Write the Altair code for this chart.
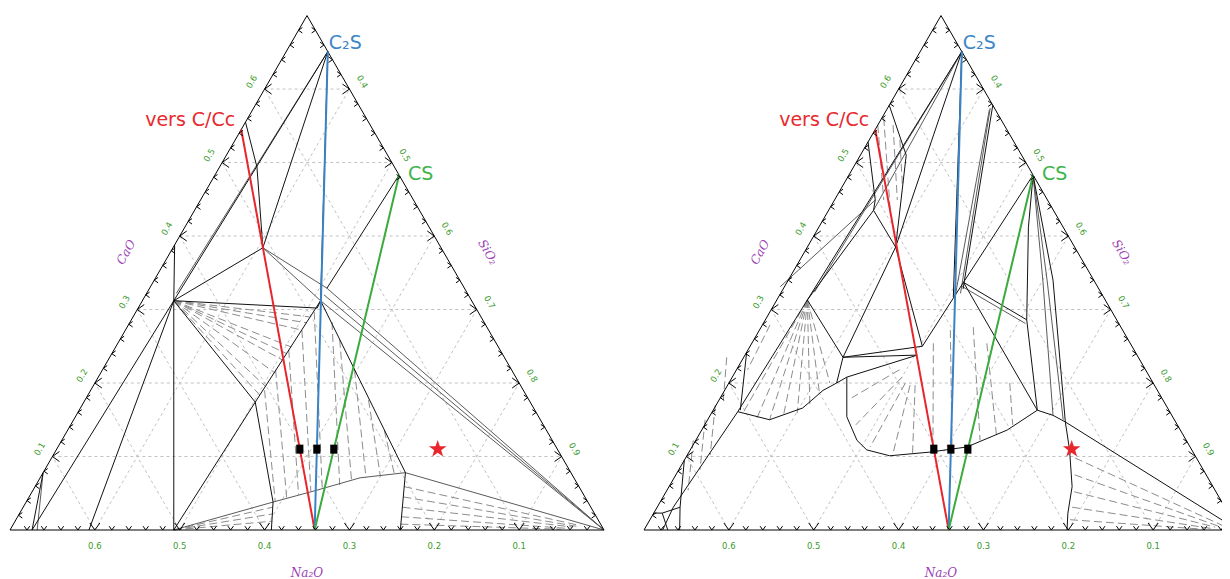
import altair as alt
import pandas as pd

# ---------------- geometry of the page (scale only) ----------------
SQ3 = 3 ** 0.5 / 2
PX = 848.6                 # pixels per unit composition along an edge
D = 634 / PX               # horizontal shift of the second diagram
W, H = 1214, 571
X0 = 0.3 - 2 / PX
X1 = X0 + W / PX
Y1 = 522 / PX
Y0 = Y1 - H / PX

# ---------------- compositions: (Na2O, CaO), SiO2 = 1 - Na2O - CaO ----------------
C2S = (0.0, 0.651)
CS = (0.0, 0.483)
NS2 = (0.341, 0.0)
VERS_C = (0.155, 0.545)
SIO2 = (0.0, 0.0)
LEFT_V = (0.7, 0.0)
TOP_V = (0.0, 0.7)

MAJOR = [0.1, 0.2, 0.3, 0.4, 0.5, 0.6]
MINOR = [0.02, 0.04, 0.06, 0.08, 0.12, 0.14, 0.16, 0.18, 0.22, 0.24, 0.26, 0.28,
         0.32, 0.34, 0.36, 0.38, 0.42, 0.44, 0.46, 0.48, 0.52, 0.54, 0.56, 0.58,
         0.62, 0.64, 0.66, 0.68]
BOTTOM_LABELS = ["0.1", "0.2", "0.3", "0.4", "0.5", "0.6"]
LEFT_LABELS = ["0.1", "0.2", "0.3", "0.4", "0.5", "0.6"]
RIGHT_LABELS = ["0.9", "0.8", "0.7", "0.6", "0.5", "0.4"]

SQUARES = [(0.3035, 0.11), (0.2834, 0.11), (0.2634, 0.11)]
STAR = [(0.141, 0.11)]

# ---------------- left diagram ----------------
P1 = (0.351, 0.312); P2 = (0.210, 0.384); P3 = (0.178, 0.312); P3b = (0.162, 0.329)
P3c = (0.187, 0.302); P3d = (0.170, 0.320); P4 = (0.195, 0.078); QB = (0.240, 0.0)
B1 = (0.507, 0.0); B2 = (0.371, 0.038); B2b = (0.392, 0.0); B3 = (0.312, 0.054)
B3b = (0.252, 0.071); B4 = (0.324, 0.174); VT = (0.312, 0.388)
L1 = (0.145, 0.555); L1b = (0.162, 0.494)
E1 = (0.674, 0.0); E2 = (0.607, 0.0); E3 = (0.622, 0.078); P1s = (0.343, 0.322)

left_black = [
    [E1, P1, C2S], [E2, P1], [E3, E1], [VT, P1, B1], [P1, P2], [L1, L1b, P2],
    [P2, C2S], [C2S, P3], [P3b, CS], [P3, P4], [P4, QB], [B2b, B2, B4], [P1, B4],
    [B1, B4, P3], [P1, P3c, P3],
]
left_gray = [
    [P1s, C2S], [P2, P3], [P2, P3b], [P3, SIO2], [P3b, SIO2], [P3d, SIO2],
    [P4, SIO2], [B1, B2, B3, B3b, P4], [E3, (0.668, 0.0)],
]
left_ties = [
    [P1, (0.202, 0.290)], [P1, (0.210, 0.282)], [P1, (0.220, 0.272)],
    [P1, (0.244, 0.249)], [P1, (0.254, 0.240)], [P1, (0.263, 0.231)],
    [P1, (0.281, 0.214)], [P1, (0.301, 0.195)], [P1, (0.314, 0.184)],
    [(0.305, 0.190), (0.368, 0.039)], [(0.278, 0.218), (0.352, 0.044)],
    [(0.249, 0.245), (0.336, 0.048)], [(0.220, 0.272), (0.319, 0.053)],
    [(0.193, 0.297), (0.304, 0.056)], [(0.179, 0.283), (0.281, 0.061)],
    [(0.182, 0.259), (0.264, 0.067)], [(0.185, 0.218), (0.245, 0.071)],
    [(0.189, 0.177), (0.227, 0.073)], [(0.191, 0.136), (0.209, 0.076)],
    [(0.206, 0.059), (0.025, 0.006)], [(0.214, 0.045), (0.030, 0.005)],
    [(0.222, 0.031), (0.035, 0.004)], [(0.230, 0.018), (0.040, 0.002)],
    [(0.236, 0.008), (0.050, 0.001)],
    [B1, (0.375, 0.031)], [B1, (0.379, 0.022)], [B1, (0.385, 0.012)],
]

# ---------------- right diagram ----------------
U1 = (0.122, 0.578); U2 = (0.136, 0.510); P2r = (0.211, 0.385); U3 = (0.172, 0.528)
U4 = (0.203, 0.449); U5 = (0.212, 0.435); P1r = (0.351, 0.313); P1t = (0.337, 0.324)
Q1 = (0.348, 0.235); Q1b = (0.357, 0.208); Q2 = (0.259, 0.238); Q2p = (0.247, 0.250)
P3r = (0.155, 0.337); R = (0.155, 0.163); R2 = (0.106, 0.286); R3 = (0.041, 0.412)
R4 = (0.130, 0.147); R5 = (0.140, 0.156); R6 = (0.131, 0.150)
K1 = (0.060, 0.340); K2 = (0.055, 0.340); K3 = (0.048, 0.340)
V1 = (0.144, 0.109); V2 = (0.166, 0.059); V3 = (0.189, 0.023); V4 = (0.2015, 0.0)
W1 = (0.384, 0.154); W2 = (0.388, 0.122); W3 = (0.383, 0.109); W4 = (0.360, 0.101)
W5 = (0.310, 0.106); W6 = (0.263, 0.113); W7 = (0.204, 0.136)
Z1 = (0.509, 0.161); Z2 = (0.477, 0.150); Z3 = (0.430, 0.166); Z4 = (0.394, 0.190)
Z5 = (0.373, 0.200); Y1p = (0.650, 0.031); Y2p = (0.678, 0.0)
T1 = (0.458, 0.242); T2 = (0.505, 0.163)
S1 = (0.605, 0.095); S2 = (0.642, 0.031); S3 = (0.658, 0.0)
G1 = (0.677, 0.023); G2 = (0.667, 0.023); G3 = (0.672, 0.0)
A1 = (0.374, 0.331); A2 = (0.177, 0.317)

right_black = [
    [U1, U2, P2r], [U3, U4, U5, P2r], [P2r, C2S], [P1r, C2S], [U5, P1r],
    [P2r, Q2p], [P2r, Q1], [P1r, Q1], [P1r, Z1, Y1p, Y2p],
    [Z1, Z2, Z3, Z4, Z5, Q1], [Z5, Q1b], [Q1, Q2p], [Q1, Q2], [Q1b, Q2],
    [Q2p, P3r], [P3r, CS], [P3r, R], [P3r, R2], [CS, R3, R2, R], [CS, K3, R4],
    [R, R5, R4], [R4, SIO2], [R4, V1, V2, V3, V4],
    [Q1b, W1, W2, W3, W4, W5, W6, W7, R], [T1, T2], [S1, S2, S3], [C2S, A2],
    [(0.160, 0.328), (0.0, 0.578)], [G1, G2, S2], [G2, G3],
]
right_gray = [
    [U5, C2S], [P1t, C2S], [A1, U4], [(0.160, 0.332), (0.110, 0.281)],
    [CS, K1, R5], [CS, K2, R6],
    [(0.166, 0.322), (0.005, 0.574)], [(0.175, 0.317), (0.007, 0.572)],
]
right_ties = [
    [(0.149, 0.551), (0.193, 0.449)], [(0.137, 0.561), (0.195, 0.429)],
    [(0.131, 0.551), (0.177, 0.449)], [(0.133, 0.531), (0.161, 0.469)],
    [P1r, (0.504, 0.159)], [P1r, (0.491, 0.152)], [P1r, (0.477, 0.150)],
    [P1r, (0.459, 0.154)], [P1r, (0.440, 0.159)], [P1r, (0.421, 0.167)],
    [P1r, (0.401, 0.184)], [P1r, (0.381, 0.200)],
    [(0.412, 0.279), (0.469, 0.218)],
    [(0.485, 0.235), (0.518, 0.177)], [(0.531, 0.170), (0.571, 0.102)],
    [(0.553, 0.150), (0.593, 0.082)], [(0.581, 0.122), (0.621, 0.054)],
    [(0.290, 0.218), (0.365, 0.180)], [(0.292, 0.208), (0.379, 0.143)],
    [(0.292, 0.200), (0.377, 0.113)], [(0.288, 0.197), (0.356, 0.102)],
    [(0.282, 0.197), (0.331, 0.105)],
    [(0.232, 0.254), (0.303, 0.113)], [(0.203, 0.272), (0.281, 0.112)],
    [(0.174, 0.276), (0.243, 0.122)], [(0.169, 0.254), (0.221, 0.127)],
    [(0.169, 0.200), (0.194, 0.143)],
    [(0.143, 0.098), (0.015, 0.006)], [(0.155, 0.075), (0.020, 0.005)],
    [(0.167, 0.052), (0.025, 0.004)], [(0.180, 0.031), (0.030, 0.002)],
    [(0.191, 0.014), (0.040, 0.001)],
]

# ---------------- helpers ----------------
def cart(n, c, p):
    return 1 - n - c / 2 + p * D, c * SQ3


def lines_df(per_panel):
    rows = []
    for p, polylines in per_panel:
        for k, pl in enumerate(polylines):
            for i, (n, c) in enumerate(pl):
                x, y = cart(n, c, p)
                rows.append(dict(lid=f"{p}-{k}", i=i, X=x, Y=y))
    return pd.DataFrame(rows)


def points_df(pts):
    rows = []
    for p in (0, 1):
        for n, c in pts:
            x, y = cart(n, c, p)
            rows.append(dict(X=x, Y=y))
    return pd.DataFrame(rows)


xs = alt.Scale(domain=[X0, X1], nice=False, zero=False)
ys = alt.Scale(domain=[Y0, Y1], nice=False, zero=False)
XE = alt.X("X:Q", scale=xs, axis=None)
YE = alt.Y("Y:Q", scale=ys, axis=None)


def line_layer(df, color, width, dash=None):
    kw = dict(color=color, strokeWidth=width)
    if dash:
        kw["strokeDash"] = dash
    return alt.Chart(df).mark_line(**kw).encode(
        x=XE, y=YE, detail="lid:N", order="i:Q")


both = lambda pl: [(0, pl), (1, pl)]

# grid lines
grid = []
for v in MAJOR:
    grid.append([(0.7 - v, v), (0.0, v)])        # constant CaO
    grid.append([(v, 0.0), (v, 0.7 - v)])        # constant Na2O
    grid.append([(v, 0.0), (0.0, v)])            # constant SiO2
outline = [[LEFT_V, TOP_V, SIO2, LEFT_V]]

layers = [
    line_layer(lines_df(both(grid)), "#c2c2c2", 1, [3, 3]),
    line_layer(lines_df([(0, left_ties), (1, right_ties)]), "#8c8c8c", 1, [8, 4]),
    line_layer(lines_df([(0, left_gray), (1, right_gray)]), "#5a5a5a", 1),
    line_layer(lines_df([(0, left_black), (1, right_black)]), "#111111", 1),
    line_layer(lines_df(both(outline)), "#000000", 1),
    line_layer(lines_df(both([[NS2, VERS_C]])), "#e8262b", 2),
    line_layer(lines_df(both([[NS2, C2S]])), "#3a82c4", 2),
    line_layer(lines_df(both([[NS2, CS]])), "#3caa3c", 2),
]

# ticks (chevrons)
def tick_df(vals, side):
    rows = []
    for p in (0, 1):
        for v in vals:
            if side == "bottom":
                n, c = v, 0.0
            elif side == "left":
                n, c = 0.7 - v, v
            else:
                n, c = 0.0, v
            x, y = cart(n, c, p)
            rows.append(dict(X=x, Y=y))
    return pd.DataFrame(rows)


SHAPES = {"bottom": "M-1,-1.4L0,0L1,-1.4",
          "left": "M1.4,-1L0,0L1.4,1",
          "right": "M-1.4,-1L0,0L-1.4,1"}
for side, shp in SHAPES.items():
    for vals, size in ((MAJOR, 100), (MINOR, 30)):
        layers.append(alt.Chart(tick_df(vals, side)).mark_point(
            shape=shp, filled=False, color="#000000", strokeWidth=1, size=size,
            opacity=1).encode(x=XE, y=YE))

# squares and star
layers.append(alt.Chart(points_df(SQUARES)).mark_point(
    shape="M-0.8,-1L0.8,-1L0.8,1L-0.8,1Z", filled=True, color="#000000",
    size=81, opacity=1).encode(x=XE, y=YE))
STAR_PATH = ("M0,-1L0.235,-0.324L0.951,-0.309L0.380,0.124L0.588,0.809L0,0.4"
             "L-0.588,0.809L-0.380,0.124L-0.951,-0.309L-0.235,-0.324Z")
layers.append(alt.Chart(points_df(STAR)).mark_point(
    shape=STAR_PATH, filled=True, color="#e8262b", size=340, opacity=1).encode(
    x=XE, y=YE))

# tick labels
OFF = 15 / PX
def label_df(side):
    rows = []
    for p in (0, 1):
        for k, v in enumerate(MAJOR):
            if side == "bottom":
                x, y = cart(v, 0.0, p)
                y -= 16 / PX
                t = BOTTOM_LABELS[k]
            elif side == "left":
                x, y = cart(0.7 - v, v, p)
                x -= OFF * SQ3
                y += OFF * 0.5
                t = LEFT_LABELS[k]
            else:
                x, y = cart(0.0, v, p)
                x += OFF * SQ3
                y += OFF * 0.5
                t = RIGHT_LABELS[k]
            rows.append(dict(X=x, Y=y, t=t))
    return pd.DataFrame(rows)


for side, ang in (("bottom", 0), ("left", 300), ("right", 60)):
    layers.append(alt.Chart(label_df(side)).mark_text(
        font="DejaVu Sans", fontSize=8.5, color="#3a9a2a", angle=ang,
        align="center", baseline="middle").encode(x=XE, y=YE, text="t:N"))

# axis titles
TOFF = 38.5 / PX
def title_df(kind):
    rows = []
    for p in (0, 1):
        if kind == "CaO":
            x, y = cart(0.348, 0.352, p)
            x -= TOFF * SQ3
            y += TOFF * 0.5
            t = "CaO"
        elif kind == "SiO2":
            x, y = cart(0.0, 0.352, p)
            x += TOFF * SQ3
            y += TOFF * 0.5
            t = "SiO₂"
        else:
            x, y = cart(0.35, 0.0, p)
            y -= 43 / PX
            t = "Na₂O"
        rows.append(dict(X=x, Y=y, t=t))
    return pd.DataFrame(rows)


for kind, ang in (("CaO", 300), ("SiO2", 60), ("Na2O", 0)):
    layers.append(alt.Chart(title_df(kind)).mark_text(
        font="DejaVu Serif", fontStyle="italic", fontSize=12,
        color="#9b3fb5", angle=ang, align="center", baseline="middle").encode(
        x=XE, y=YE, text="t:N"))

# phase labels
def named(pt, text):
    rows = []
    for p in (0, 1):
        x, y = cart(pt[0], pt[1], p)
        rows.append(dict(X=x, Y=y, t=text))
    return pd.DataFrame(rows)


layers.append(alt.Chart(named(C2S, "C₂S")).mark_text(
    font="DejaVu Sans", fontSize=19, color="#3d85c6", align="left",
    baseline="middle", dx=1, dy=-9).encode(x=XE, y=YE, text="t:N"))
layers.append(alt.Chart(named(CS, "CS")).mark_text(
    font="DejaVu Sans", fontSize=19, color="#3cb44b", align="left",
    baseline="middle", dx=9, dy=-1).encode(x=XE, y=YE, text="t:N"))
layers.append(alt.Chart(named(VERS_C, "vers C/Cc")).mark_text(
    font="DejaVu Sans", fontSize=19, color="#e8292e", align="right",
    baseline="middle", dx=-6, dy=-9).encode(x=XE, y=YE, text="t:N"))

chart = alt.layer(*layers).properties(
    width=W, height=H, padding=0,
    autosize=alt.AutoSizeParams(type="none"),
).configure_view(stroke=None)

chart.save("out.html", embed_options={"renderer": "svg", "actions": False})
